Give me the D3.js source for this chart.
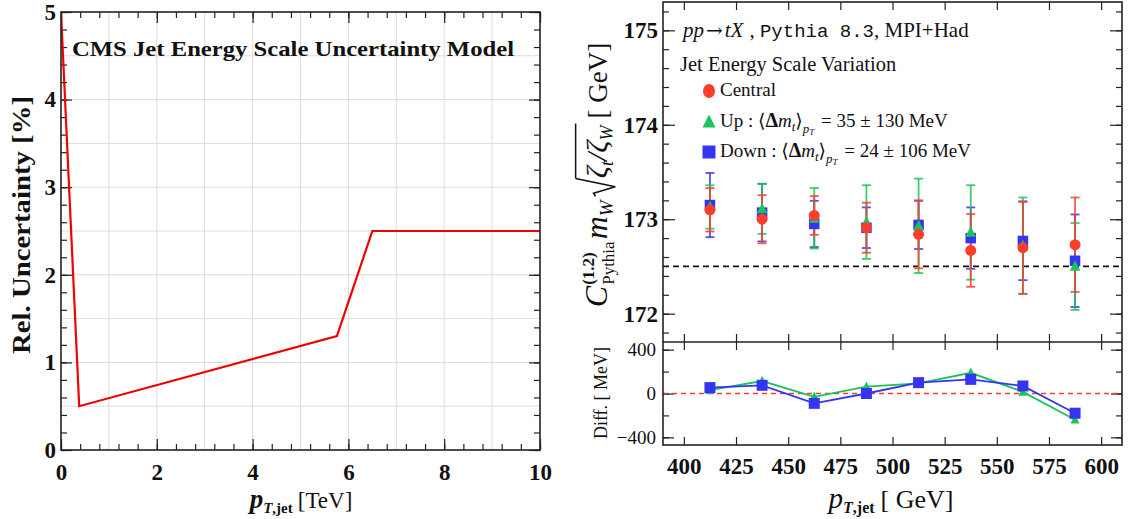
<!DOCTYPE html>
<html><head><meta charset="utf-8">
<script src="https://cdn.jsdelivr.net/npm/d3@7"></script>
<style>body{margin:0;background:#fff}svg{display:block}text{white-space:pre}</style>
</head><body>
<svg id="c" width="1129" height="519"></svg>
<script>
// ---------- Left panel data ----------
const jesPt = [0, 0.38, 5.76, 6.5, 10];
const jesUnc = [5, 0.5, 1.3, 2.5, 2.5];
const xTicksLeft = [0, 2, 4, 6, 8, 10];
const yTicksLeft = [0, 1, 2, 3, 4, 5];
const leftTitle = "CMS Jet Energy Scale Uncertainty Model";

// ---------- Right panel data ----------
const ptBins = [412.5, 437.5, 462.5, 487.5, 512.5, 537.5, 562.5, 587.5];
const centralVal = [173.10, 173.00, 173.04, 172.91, 172.84, 172.67, 172.70, 172.73];
const centralErr = [0.23, 0.255, 0.205, 0.265, 0.36, 0.385, 0.49, 0.50];
const upVal = [173.13, 173.11, 173.01, 172.97, 172.93, 172.86, 172.72, 172.50];
const upErr = [0.23, 0.265, 0.32, 0.39, 0.50, 0.50, 0.51, 0.46];
const downVal = [173.15, 173.07, 172.95, 172.91, 172.94, 172.80, 172.77, 172.56];
const downErr = [0.34, 0.305, 0.245, 0.215, 0.255, 0.325, 0.415, 0.49];
const upDiff = [30, 114, -30, 63, 93, 189, 15, -240];
const downDiff = [54, 75, -90, 0, 99, 129, 69, -180];
const refMass = 172.5;
const xTicksRight = [400, 425, 450, 475, 500, 525, 550, 575, 600];
const yTicksTop = [172, 173, 174, 175];
const yTicksDiff = [-400, 0, 400];
const legendLabels = ["Central", "Up", "Down"];
const legendStats = [null, ["35", "130"], ["24", "106"]];

const RED = "#fb3d2b", GREEN = "#1cc35a", BLUE = "#3434f2";
const SERIF = "'Liberation Serif','Times New Roman',serif";
const MONO = "'Liberation Mono','DejaVu Sans Mono',monospace";

const svg = d3.select("#c");

// rich text helper: parts placed sequentially along baseline
function rich(parent, parts) {
  const g = parent.append("g");
  let x = 0, pendingMax = null;
  let ovEnd = null;
  let rad = null;
  parts.forEach(p => {
    if (p.radical) {
      const fs = p.fs;
      const x0 = x + 1;
      g.append("path")
        .attr("d", `M${x0},${-0.36*fs} L${x0+0.1*fs},${-0.42*fs} L${x0+0.3*fs},${0.26*fs} L${x0+0.56*fs},${-0.98*fs}`)
        .attr("fill", "none").attr("stroke", "#111").attr("stroke-width", 1.5);
      rad = {x: x0 + 0.56*fs, y: -0.98*fs};
      x += 0.6*fs;
      return;
    }
    const t = g.append("text").attr("x", x + (p.dx || 0)).attr("y", p.dy || 0)
      .attr("font-family", p.ff || SERIF).attr("font-size", p.fs)
      .attr("font-weight", p.fw || "normal").attr("font-style", p.fst || "normal")
      .attr("fill", "#111").text(p.t);
    const w = t.node().getComputedTextLength() + (p.dx || 0);
    if (p.ov) ovEnd = x + w;
    if (p.stack) { pendingMax = w; }
    else if (pendingMax !== null) { x += Math.max(w, pendingMax) + (p.after || 0); pendingMax = null; }
    else x += w + (p.after || 0);
  });
  if (rad) {
    g.append("line").attr("x1", rad.x).attr("x2", ovEnd + 2).attr("y1", rad.y).attr("y2", rad.y)
      .attr("stroke", "#111").attr("stroke-width", 1.5);
  }
  return {g, w: x};
}

// ================= LEFT PANEL =================
const L = {x0: 61, x1: 540, y0: 12, y1: 450};
const xL = d3.scaleLinear([0, 10], [L.x0, L.x1]);
const yL = d3.scaleLinear([0, 5], [L.y1, L.y0]);
const gL = svg.append("g");

// grid
gL.append("g").selectAll("line").data(d3.range(1, 10)).join("line")
  .attr("x1", d => xL(d)).attr("x2", d => xL(d)).attr("y1", L.y0).attr("y2", L.y1)
  .attr("stroke", "#dcdcdc").attr("stroke-width", 1);
gL.append("g").selectAll("line").data(d3.range(0.5, 5, 0.5)).join("line")
  .attr("y1", d => yL(d)).attr("y2", d => yL(d)).attr("x1", L.x0).attr("x2", L.x1)
  .attr("stroke", "#dcdcdc").attr("stroke-width", 1);

function styleAxis(g) {
  g.select(".domain").remove();
  g.selectAll(".tick line").attr("stroke", "#222").attr("stroke-width", 1.2);
}
const minorX = d3.range(0, 10.01, 0.4).map(v => +v.toFixed(2));
const minorY = d3.range(0, 5.01, 0.2).map(v => +v.toFixed(2));
gL.append("g").attr("transform", `translate(0,${L.y1})`)
  .call(d3.axisBottom(xL).tickValues(minorX).tickSize(-6).tickFormat("")).call(styleAxis);
gL.append("g").attr("transform", `translate(0,${L.y0})`)
  .call(d3.axisTop(xL).tickValues(minorX).tickSize(-6).tickFormat("")).call(styleAxis);
gL.append("g").attr("transform", `translate(${L.x0},0)`)
  .call(d3.axisLeft(yL).tickValues(minorY).tickSize(-6).tickFormat("")).call(styleAxis);
gL.append("g").attr("transform", `translate(${L.x1},0)`)
  .call(d3.axisRight(yL).tickValues(minorY).tickSize(-6).tickFormat("")).call(styleAxis);
const axLB = gL.append("g").attr("transform", `translate(0,${L.y1})`)
  .call(d3.axisBottom(xL).tickValues(xTicksLeft).tickSize(-11).tickPadding(14).tickFormat(d3.format("d")))
  .call(styleAxis);
gL.append("g").attr("transform", `translate(0,${L.y0})`)
  .call(d3.axisTop(xL).tickValues(xTicksLeft).tickSize(-11).tickFormat("")).call(styleAxis);
const axLL = gL.append("g").attr("transform", `translate(${L.x0},0)`)
  .call(d3.axisLeft(yL).tickValues(yTicksLeft).tickSize(-11).tickPadding(5).tickFormat(d3.format("d")))
  .call(styleAxis);
gL.append("g").attr("transform", `translate(${L.x1},0)`)
  .call(d3.axisRight(yL).tickValues(yTicksLeft).tickSize(-11).tickFormat("")).call(styleAxis);
[axLB, axLL].forEach(a => a.selectAll("text").attr("font-family", SERIF).attr("font-size", 23)
  .attr("font-weight", "bold").attr("fill", "#111"));

// curve
svg.append("clipPath").attr("id", "clipL").append("rect")
  .attr("x", L.x0).attr("y", L.y0).attr("width", L.x1 - L.x0).attr("height", L.y1 - L.y0);
gL.append("path").datum(jesPt.map((p, i) => [p, jesUnc[i]]))
  .attr("clip-path", "url(#clipL)")
  .attr("d", d3.line().x(d => xL(d[0])).y(d => yL(d[1])))
  .attr("fill", "none").attr("stroke", "#f00000").attr("stroke-width", 2.2);

// frame
gL.append("rect").attr("x", L.x0).attr("y", L.y0).attr("width", L.x1 - L.x0).attr("height", L.y1 - L.y0)
  .attr("fill", "none").attr("stroke", "#222").attr("stroke-width", 1.6);

// title
gL.append("text").attr("x", 72).attr("y", 56).attr("font-family", SERIF).attr("font-size", 22)
  .attr("font-weight", "bold").attr("fill", "#111").attr("textLength", 442)
  .attr("lengthAdjust", "spacingAndGlyphs").text(leftTitle);

// left y label
svg.append("text").attr("transform", "translate(30,225) rotate(-90)").attr("text-anchor", "middle")
  .attr("font-family", SERIF).attr("font-size", 25).attr("font-weight", "bold").attr("fill", "#111")
  .attr("textLength", 258).attr("lengthAdjust", "spacingAndGlyphs").text("Rel. Uncertainty [%]");

// left x label
{
  const r = rich(svg, [
    {t: "p", fs: 27, fst: "italic", fw: "bold"},
    {t: "T", fs: 15, fst: "italic", fw: "bold", dy: 5},
    {t: ",jet", fs: 15, fw: "bold", dy: 5, after: 5},
    {t: "[TeV]", fs: 23}
  ]);
  r.g.attr("transform", `translate(${301 - r.w/2},508)`);
}

// ================= RIGHT PANEL =================
const R = {x0: 663, x1: 1122, yt: 2, ym: 342, yb: 445};
const xR = d3.scaleLinear([390, 610], [R.x0, R.x1]);
const yT = d3.scaleLinear([171.7, 175.3], [R.ym, R.yt]);
const yD = d3.scaleLinear([-470, 470], [R.yb, R.ym]);
const gR = svg.append("g");

const minorT = d3.range(171.8, 175.3, 0.2).map(v => +v.toFixed(1));
const minorD = [-400, -200, 0, 200, 400];

gR.append("g").attr("transform", `translate(${R.x0},0)`)
  .call(d3.axisLeft(yT).tickValues(minorT).tickSize(-6).tickFormat("")).call(styleAxis);
gR.append("g").attr("transform", `translate(${R.x1},0)`)
  .call(d3.axisRight(yT).tickValues(minorT).tickSize(-6).tickFormat("")).call(styleAxis);
const axTL = gR.append("g").attr("transform", `translate(${R.x0},0)`)
  .call(d3.axisLeft(yT).tickValues(yTicksTop).tickSize(-12).tickPadding(5).tickFormat(d3.format("d")))
  .call(styleAxis);
gR.append("g").attr("transform", `translate(${R.x1},0)`)
  .call(d3.axisRight(yT).tickValues(yTicksTop).tickSize(-12).tickFormat("")).call(styleAxis);
gR.append("g").attr("transform", `translate(0,${R.ym})`)
  .call(d3.axisBottom(xR).tickValues(xTicksRight).tickSize(-8).tickFormat("")).call(styleAxis);
gR.append("g").attr("transform", `translate(0,${R.yt})`)
  .call(d3.axisTop(xR).tickValues(xTicksRight).tickSize(-8).tickFormat("")).call(styleAxis);
axTL.selectAll("text").attr("font-family", SERIF).attr("font-size", 23).attr("font-weight", "bold").attr("fill", "#111");

gR.append("g").attr("transform", `translate(${R.x0},0)`)
  .call(d3.axisLeft(yD).tickValues(minorD).tickSize(-6).tickFormat("")).call(styleAxis);
gR.append("g").attr("transform", `translate(${R.x1},0)`)
  .call(d3.axisRight(yD).tickValues(minorD).tickSize(-6).tickFormat("")).call(styleAxis);
const axDL = gR.append("g").attr("transform", `translate(${R.x0},0)`)
  .call(d3.axisLeft(yD).tickValues(yTicksDiff).tickSize(-11).tickPadding(7)
    .tickFormat(d => d < 0 ? "\u2212" + Math.abs(d) : String(d)))
  .call(styleAxis);
gR.append("g").attr("transform", `translate(${R.x1},0)`)
  .call(d3.axisRight(yD).tickValues(yTicksDiff).tickSize(-11).tickFormat("")).call(styleAxis);
axDL.selectAll("text").attr("font-family", SERIF).attr("font-size", 19).attr("fill", "#111");
const axDB = gR.append("g").attr("transform", `translate(0,${R.yb})`)
  .call(d3.axisBottom(xR).tickValues(xTicksRight).tickSize(-8).tickPadding(13).tickFormat(d3.format("d")))
  .call(styleAxis);
gR.append("g").attr("transform", `translate(0,${R.ym})`)
  .call(d3.axisTop(xR).tickValues(xTicksRight).tickSize(-8).tickFormat("")).call(styleAxis);
axDB.selectAll("text").attr("font-family", SERIF).attr("font-size", 23).attr("font-weight", "bold").attr("fill", "#111");

// reference line
gR.append("line").attr("x1", R.x0).attr("x2", R.x1).attr("y1", yT(refMass)).attr("y2", yT(refMass))
  .attr("stroke", "#111").attr("stroke-width", 1.8).attr("stroke-dasharray", "6,4");
gR.append("line").attr("x1", R.x0).attr("x2", R.x1).attr("y1", yD(0)).attr("y2", yD(0))
  .attr("stroke", RED).attr("stroke-width", 1.6).attr("stroke-dasharray", "5,4");

// error bars + markers
const series = [
  {val: downVal, err: downErr, color: BLUE, shape: "square"},
  {val: upVal, err: upErr, color: GREEN, shape: "triangle"},
  {val: centralVal, err: centralErr, color: RED, shape: "circle"}
];
const cap = 4.5;
series.forEach(s => {
  const g = gR.append("g").attr("stroke", s.color).attr("stroke-width", 1.8).attr("stroke-opacity", 0.85);
  ptBins.forEach((x, i) => {
    const cx = xR(x), top = yT(s.val[i] + s.err[i]), bot = yT(s.val[i] - s.err[i]);
    g.append("line").attr("x1", cx).attr("x2", cx).attr("y1", top).attr("y2", bot);
    g.append("line").attr("x1", cx - cap).attr("x2", cx + cap).attr("y1", top).attr("y2", top);
    g.append("line").attr("x1", cx - cap).attr("x2", cx + cap).attr("y1", bot).attr("y2", bot);
  });
});
function marker(g, shape, cx, cy, size, color) {
  if (shape === "circle") g.append("circle").attr("cx", cx).attr("cy", cy).attr("r", size/2).attr("fill", color);
  else if (shape === "square") g.append("rect").attr("x", cx - size/2).attr("y", cy - size/2)
    .attr("width", size).attr("height", size).attr("fill", color);
  else g.append("path").attr("d", `M${cx},${cy - size*0.58} L${cx + size/2},${cy + size*0.42} L${cx - size/2},${cy + size*0.42}Z`)
    .attr("fill", color);
}
series.forEach(s => {
  const g = gR.append("g");
  ptBins.forEach((x, i) => marker(g, s.shape, xR(x), yT(s.val[i]), s.shape === "circle" ? 11 : 10.5, s.color));
});

// diff lines
[[upDiff, GREEN, "triangle", 9], [downDiff, BLUE, "square", 11]].forEach(([d, c, sh, sz]) => {
  const g = gR.append("g");
  g.append("path").datum(d.map((v, i) => [ptBins[i], v]))
    .attr("d", d3.line().x(p => xR(p[0])).y(p => yD(p[1])))
    .attr("fill", "none").attr("stroke", c).attr("stroke-width", 1.8);
  d.forEach((v, i) => marker(g, sh, xR(ptBins[i]), yD(v), sz, c));
});

// frames
gR.append("rect").attr("x", R.x0).attr("y", R.yt).attr("width", R.x1 - R.x0).attr("height", R.yb - R.yt)
  .attr("fill", "none").attr("stroke", "#222").attr("stroke-width", 1.6);
gR.append("line").attr("x1", R.x0).attr("x2", R.x1).attr("y1", R.ym).attr("y2", R.ym)
  .attr("stroke", "#222").attr("stroke-width", 1.6);

// header text
{
  const r = rich(svg, [
    {t: "pp", fs: 21, fst: "italic", after: 2},
    {t: "\u2192", fs: 20, ff: "'DejaVu Serif',serif", after: 2},
    {t: "tX", fs: 21, fst: "italic", after: 6},
    {t: ", ", fs: 21},
    {t: "Pythia 8.3", fs: 19, ff: MONO},
    {t: ", MPI+Had", fs: 21}
  ]);
  r.g.attr("transform", "translate(683,37)");
}
svg.append("text").attr("x", 680).attr("y", 71).attr("font-family", SERIF).attr("font-size", 20.5)
  .attr("fill", "#111").text("Jet Energy Scale Variation");

// legend
const legY = [91, 122, 152];
const legShapes = ["circle", "triangle", "square"];
const legColors = [RED, GREEN, BLUE];
legendLabels.forEach((lab, i) => {
  const cx = 709, cy = legY[i];
  if (legShapes[i] === "circle") svg.append("ellipse").attr("cx", cx).attr("cy", cy).attr("rx", 6).attr("ry", 7).attr("fill", RED);
  else marker(svg, legShapes[i], cx, cy, 13, legColors[i]);
  const fs = 19;
  const parts = [{t: lab, fs}];
  if (legendStats[i]) {
    parts.push({t: " : ", fs});
    parts.push({t: "\u27E8", fs, ff: "'DejaVu Serif',serif"});
    parts.push({t: "\u0394", fs: 20, fw: "bold"});
    parts.push({t: "m", fs, fst: "italic"});
    parts.push({t: "t", fs: 13, fst: "italic", dy: 4});
    parts.push({t: "\u27E9", fs, ff: "'DejaVu Serif',serif"});
    parts.push({t: "p", fs: 13, fst: "italic", dy: 6});
    parts.push({t: "T", fs: 9, fst: "italic", dy: 8, after: 2});
    parts.push({t: " = " + legendStats[i][0] + " \u00B1 " + legendStats[i][1] + " MeV", fs});
  }
  const r = rich(svg, parts);
  r.g.attr("transform", `translate(720,${cy + 5})`);
});

// right upper y label
{
  const r = rich(svg, [
    {t: "C", fs: 32, fst: "italic", after: 1},
    {t: "(1.2)", fs: 17, fw: "bold", dy: -13, stack: true},
    {t: "Pythia", fs: 17, dy: 7, after: 2},
    {t: "m", fs: 32, fst: "italic"},
    {t: "W", fs: 19, fst: "italic", dy: 6, after: 3},
    {radical: true, fs: 32},
    {t: "\u03B6", fs: 30, fst: "italic", ov: true},
    {t: "t", fs: 18, fst: "italic", dy: 6, ov: true},
    {t: "/", fs: 30, fst: "italic", ov: true},
    {t: "\u03B6", fs: 30, fst: "italic", ov: true},
    {t: "W", fs: 18, fst: "italic", dy: 6, ov: true, after: 7},
    {t: "[ GeV]", fs: 27}
  ]);
  r.g.attr("transform", `translate(607,${175 + r.w/2}) rotate(-90)`);
}
// diff y label
{
  const r = rich(svg, [{t: "Diff. [ MeV]", fs: 18}]);
  r.g.attr("transform", `translate(607,${393 + r.w/2}) rotate(-90)`);
}
// right x label
{
  const r = rich(svg, [
    {t: "p", fs: 29, fst: "italic"},
    {t: "T", fs: 16, fst: "italic", fw: "bold", dy: 5},
    {t: ",jet", fs: 16, fw: "bold", dy: 5, after: 6},
    {t: "[ GeV]", fs: 26}
  ]);
  r.g.attr("transform", `translate(${891 - r.w/2},508)`);
}
</script>
</body></html>
